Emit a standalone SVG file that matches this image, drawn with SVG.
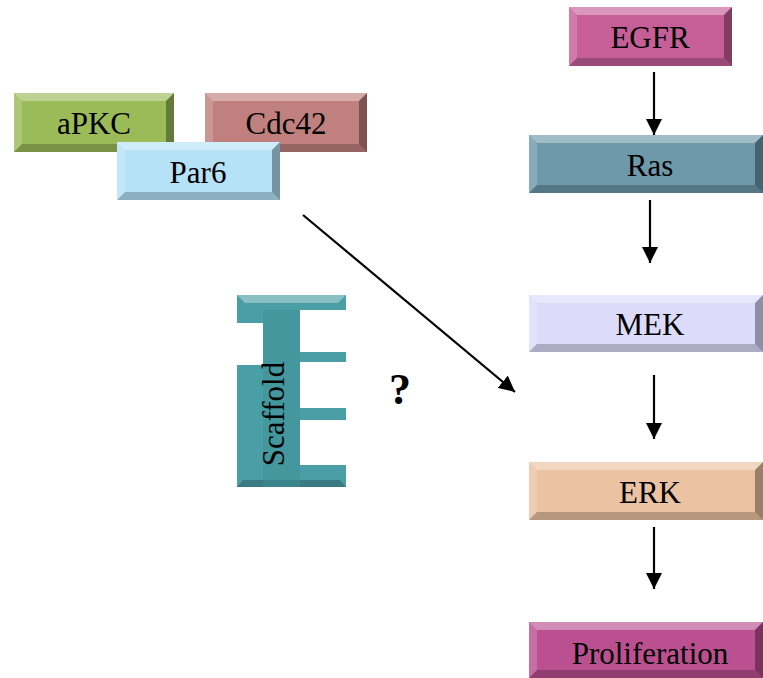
<svg xmlns="http://www.w3.org/2000/svg" width="763" height="678" viewBox="0 0 763 678">
<style>
.lbl{font-family:"Liberation Serif","Times New Roman",serif;font-size:31px;fill:#000;text-anchor:middle}
.hi{fill:#fff;opacity:0.35}
.hl{fill:#fff;opacity:0.18}
.sh{fill:#000;opacity:0.22}
.sr{fill:#000;opacity:0.35}
.edge{stroke:#000;stroke-width:2.2;fill:none;marker-end:url(#ah)}
</style>
<defs>
<marker id="ah" markerUnits="userSpaceOnUse" markerWidth="16" markerHeight="16" viewBox="0 0 10 10" refX="10" refY="5" orient="auto">
<path d="M0,0 L10,5 L0,10 z" fill="#000"/>
</marker>
</defs>
<rect width="763" height="678" fill="#fff"/>

<g id="aPKC">
<rect x="14" y="93" width="160" height="59" fill="#9bbb59"/>
<polygon class="hi" points="14,93 174,93 166,101 22,101"/>
<polygon class="hl" points="14,93 22,101 22,144 14,152"/>
<polygon class="sr" points="174,93 174,152 166,144 166,101"/>
<polygon class="sh" points="14,152 174,152 166,144 22,144"/>
<text class="lbl" x="94" y="134">aPKC</text>
</g>

<g id="Cdc42">
<rect x="205" y="93" width="162" height="59" fill="#c0807e"/>
<polygon class="hi" points="205,93 367,93 359,101 213,101"/>
<polygon class="hl" points="205,93 213,101 213,144 205,152"/>
<polygon class="sr" points="367,93 367,152 359,144 359,101"/>
<polygon class="sh" points="205,152 367,152 359,144 213,144"/>
<text class="lbl" x="286" y="134">Cdc42</text>
</g>

<g id="Par6">
<rect x="117" y="142" width="163" height="58" fill="#b5e2f7"/>
<polygon class="hi" points="117,142 280,142 272,150 125,150"/>
<polygon class="hl" points="117,142 125,150 125,192 117,200"/>
<polygon class="sr" points="280,142 280,200 272,192 272,150"/>
<polygon class="sh" points="117,200 280,200 272,192 125,192"/>
<text class="lbl" x="198" y="183">Par6</text>
</g>

<g id="Scaffold">
<polygon fill="#4a9ea5" points="237,295 346,295 346,310 300,310 300,352 346,352 346,362 300,362 300,408 346,408 346,420 300,420 300,465 346,465 346,487 237,487 237,365 263,365 263,323 237,323"/>
<polygon class="hi" points="237,295 346,295 338,303 245,303"/>
<polygon class="sh" points="237,487 346,487 340,480 243,480"/>
<rect x="263" y="310" width="37" height="177" fill="#3c8f96" opacity="0.5"/>
<text class="lbl" transform="translate(284,414) rotate(-90)" x="0" y="0">Scaffold</text>
</g>

<g id="question">
<text x="400" y="404" font-family="Liberation Serif,serif" font-size="44" font-weight="bold" text-anchor="middle">?</text>
</g>

<g id="EGFR">
<rect x="569" y="7" width="163" height="59" fill="#c65f98"/>
<polygon class="hi" points="569,7 732,7 724,15 577,15"/>
<polygon class="hl" points="569,7 577,15 577,58 569,66"/>
<polygon class="sr" points="732,7 732,66 724,58 724,15"/>
<polygon class="sh" points="569,66 732,66 724,58 577,58"/>
<text class="lbl" x="650" y="48">EGFR</text>
</g>

<g id="Ras">
<rect x="529" y="135" width="234" height="58" fill="#6e99aa"/>
<polygon class="hi" points="529,135 763,135 755,143 537,143"/>
<polygon class="hl" points="529,135 537,143 537,185 529,193"/>
<polygon class="sr" points="763,135 763,193 755,185 755,143"/>
<polygon class="sh" points="529,193 763,193 755,185 537,185"/>
<text class="lbl" x="650" y="176">Ras</text>
</g>

<g id="MEK">
<rect x="529" y="295" width="234" height="57" fill="#dcdcfa"/>
<polygon class="hi" points="529,295 763,295 755,303 537,303"/>
<polygon class="hl" points="529,295 537,303 537,344 529,352"/>
<polygon class="sr" points="763,295 763,352 755,344 755,303"/>
<polygon class="sh" points="529,352 763,352 755,344 537,344"/>
<text class="lbl" x="650" y="335">MEK</text>
</g>

<g id="ERK">
<rect x="529" y="462" width="234" height="58" fill="#ebc3a3"/>
<polygon class="hi" points="529,462 763,462 755,470 537,470"/>
<polygon class="hl" points="529,462 537,470 537,512 529,520"/>
<polygon class="sr" points="763,462 763,520 755,512 755,470"/>
<polygon class="sh" points="529,520 763,520 755,512 537,512"/>
<text class="lbl" x="650" y="503">ERK</text>
</g>

<g id="Proliferation">
<rect x="529" y="622" width="234" height="56" fill="#bb5090"/>
<polygon class="hi" points="529,622 763,622 755,630 537,630"/>
<polygon class="hl" points="529,622 537,630 537,670 529,678"/>
<polygon class="sr" points="763,622 763,678 755,670 755,630"/>
<polygon class="sh" points="529,678 763,678 755,670 537,670"/>
<text class="lbl" x="650" y="664">Proliferation</text>
</g>

<g id="connectors">
<line class="edge" x1="654" y1="72" x2="654" y2="135"/>
<line class="edge" x1="650" y1="200" x2="650" y2="263"/>
<line class="edge" x1="654" y1="375" x2="654" y2="439"/>
<line class="edge" x1="654" y1="527" x2="654" y2="589"/>
<line class="edge" x1="303" y1="215" x2="515" y2="392"/>
</g>
</svg>
